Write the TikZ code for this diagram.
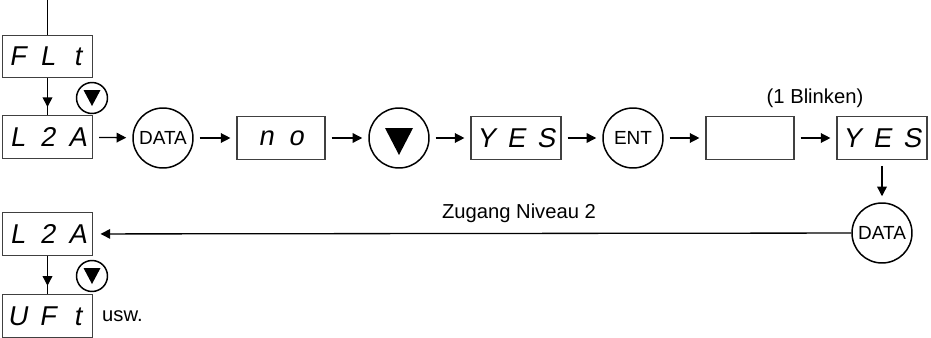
\documentclass[tikz,border=0pt]{standalone}
\usepackage{fontspec}
\setmainfont{Liberation Sans}
\newfontfamily\segfont[FakeSlant=0.18]{Liberation Sans}
\usetikzlibrary{arrows.meta,decorations.markings}

% one display digit
\newcommand{\sg}[1]{\makebox[0.6cm]{#1}}

\tikzset{
  display/.style={draw=black!75, line width=0.65pt, minimum width=1.76cm,
    minimum height=0.85cm, inner sep=0pt,
    font=\segfont\fontsize{15.5}{15.5}\selectfont},
  keybig/.style={draw, circle, line width=0.85pt, minimum size=1.2cm,
    inner sep=0pt, font=\fontsize{10.8}{10.8}\selectfont},
  keysmall/.style={draw, circle, line width=0.85pt, minimum size=0.62cm,
    inner sep=0pt},
  flow/.style={-{Triangle[length=5.5pt,width=5.5pt]}, line width=0.75pt,
    shorten >=0.12cm, shorten <=0.12cm},
  midflow/.style={line width=0.75pt, postaction={decorate},
    decoration={markings, mark=at position 0.78 with
      {\arrow{Triangle[length=5.5pt,width=5.5pt]}}}},
  label/.style={font=\fontsize{11.5}{11.5}\selectfont}
}

\begin{document}
\begin{tikzpicture}[x=0.02cm, y=-0.02cm]
  \useasboundingbox (0,0) rectangle (931,338);

  % top row
  \coordinate (entry) at (47.5,0);
  \node[display] (flt) at (47.5,56.5) {\sg{F}\sg{L}\sg{t}};
  \node[display] (lza) at (47.5,137) {\sg{L}\sg{2}\sg{A}};
  \node[keysmall] (dn1) at (92,98) {};
  \fill (dn1.center) ++(-8.5,-8) -- ++(17,0) -- ++(-8.5,16) -- cycle;

  \node[keybig] (data1) at (163,138) {DATA};
  \node[display] (no) at (281,138) {\sg{n}\sg{o}};
  \node[keybig] (dnbig) at (399,138) {};
  \fill (dnbig.center) ++(-14,-10) -- ++(28,0) -- ++(-14,27) -- cycle;
  \node[display] (yes1) at (516,138) {\sg{Y}\sg{E}\sg{S}};
  \node[keybig] (ent) at (633,138) {ENT};
  \node[display] (blank) at (750,138) {};
  \node[label] (blink) at (815,98) {(1 Blinken)};
  \node[display] (yes2) at (882,138) {\sg{Y}\sg{E}\sg{S}};
  \node[keybig] (data2) at (882,233) {DATA};

  % return row
  \node[display] (lzab) at (47.5,234) {\sg{L}\sg{2}\sg{A}};
  \node[keysmall] (dn2) at (92,276) {};
  \fill (dn2.center) ++(-8.5,-8) -- ++(17,0) -- ++(-8.5,16) -- cycle;
  \node[display] (uft) at (47.5,316) {\sg{U}\sg{F}\sg{t}};
  \node[label, anchor=west] (usw) at (96,316) {usw.};
  \node[label] (zugang) at (519,213) {Zugang Niveau 2};

  % connectors
  \draw[line width=0.75pt] (entry) -- (flt.north);
  \draw[midflow] (flt.south) -- (lza.north);
  \draw[midflow] (lzab.south) -- (uft.north);
  \draw[flow] (lza) -- (data1);
  \draw[flow] (data1) -- (no);
  \draw[flow] (no) -- (dnbig);
  \draw[flow] (dnbig) -- (yes1);
  \draw[flow] (yes1) -- (ent);
  \draw[flow] (ent) -- (blank);
  \draw[flow] (blank) -- (yes2);
  \draw[flow] (yes2) -- (data2);
  \draw[flow, shorten <=0pt, shorten >=0.15cm] (data2) -- (lzab);
\end{tikzpicture}
\end{document}
